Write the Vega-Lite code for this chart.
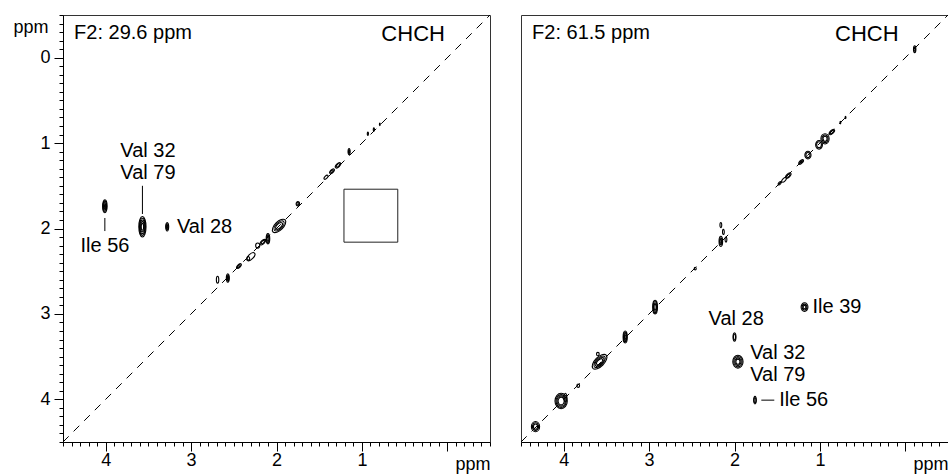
{
  "$schema": "https://vega.github.io/schema/vega-lite/v6.json",
  "padding": {"left": 12, "top": 5, "right": 0, "bottom": 0},
  "background": "white",
  "spacing": 29,
  "config": {
    "font": "Liberation Sans",
    "view": {"stroke": "#333", "strokeWidth": 1},
    "axis": {
      "domainColor": "#000",
      "tickColor": "#000",
      "labelColor": "#000",
      "titleColor": "#000",
      "labelFont": "Liberation Sans",
      "titleFont": "Liberation Sans",
      "labelFontSize": 18,
      "titleFontSize": 18,
      "titleFontWeight": "normal",
      "grid": false,
      "labelOverlap": false,
      "labelFlush": false,
      "labelBound": false,
      "tickCount": 200
    }
  },
  "datasets": {
    "peaks": [
      {"panel": "A", "x": 4.01, "y": 1.74, "form": "tall", "extent": 0.15},
      {"panel": "A", "x": 4.01, "y": 1.74, "form": "tall", "extent": 0.12},
      {"panel": "A", "x": 4.01, "y": 1.74, "form": "tall", "extent": 0.09},
      {"panel": "A", "x": 4.01, "y": 1.74, "form": "tall", "extent": 0.06},
      {"panel": "A", "x": 4.01, "y": 1.74, "form": "tall", "extent": 0.03},
      {"panel": "A", "x": 3.57, "y": 1.98, "form": "tall", "extent": 0.24},
      {"panel": "A", "x": 3.57, "y": 1.98, "form": "tall", "extent": 0.2},
      {"panel": "A", "x": 3.57, "y": 1.98, "form": "tall", "extent": 0.16},
      {"panel": "A", "x": 3.57, "y": 1.98, "form": "tall", "extent": 0.12},
      {"panel": "A", "x": 3.57, "y": 1.98, "form": "tall", "extent": 0.08},
      {"panel": "A", "x": 3.28, "y": 1.98, "form": "tall", "extent": 0.1},
      {"panel": "A", "x": 3.28, "y": 1.98, "form": "tall", "extent": 0.07},
      {"panel": "A", "x": 3.28, "y": 1.98, "form": "tall", "extent": 0.04},
      {"panel": "A", "x": 0.93, "y": 0.89, "form": "tall", "extent": 0.04},
      {"panel": "A", "x": 0.86, "y": 0.84, "form": "tall", "extent": 0.04},
      {"panel": "A", "x": 0.79, "y": 0.78, "form": "tall", "extent": 0.03},
      {"panel": "A", "x": 1.15, "y": 1.1, "form": "tall", "extent": 0.07},
      {"panel": "A", "x": 1.15, "y": 1.1, "form": "tall", "extent": 0.04},
      {"panel": "A", "x": 1.42, "y": 1.4, "form": "diag", "extent": 0.06},
      {"panel": "A", "x": 1.35, "y": 1.33, "form": "diag", "extent": 0.07},
      {"panel": "A", "x": 1.35, "y": 1.33, "form": "diag", "extent": 0.04},
      {"panel": "A", "x": 1.28, "y": 1.26, "form": "diag", "extent": 0.08},
      {"panel": "A", "x": 1.28, "y": 1.26, "form": "diag", "extent": 0.05},
      {"panel": "A", "x": 1.75, "y": 1.71, "form": "round", "extent": 0.05},
      {"panel": "A", "x": 1.75, "y": 1.71, "form": "round", "extent": 0.03},
      {"panel": "A", "x": 1.97, "y": 1.97, "form": "diag", "extent": 0.2},
      {"panel": "A", "x": 1.97, "y": 1.97, "form": "diag", "extent": 0.15},
      {"panel": "A", "x": 1.97, "y": 1.97, "form": "diag", "extent": 0.1},
      {"panel": "A", "x": 2.1, "y": 2.12, "form": "tall", "extent": 0.12},
      {"panel": "A", "x": 2.1, "y": 2.12, "form": "tall", "extent": 0.09},
      {"panel": "A", "x": 2.1, "y": 2.12, "form": "tall", "extent": 0.06},
      {"panel": "A", "x": 2.16, "y": 2.16, "form": "diag", "extent": 0.08},
      {"panel": "A", "x": 2.16, "y": 2.16, "form": "diag", "extent": 0.05},
      {"panel": "A", "x": 2.22, "y": 2.2, "form": "round", "extent": 0.06},
      {"panel": "A", "x": 2.3, "y": 2.33, "form": "diag", "extent": 0.12},
      {"panel": "A", "x": 2.33, "y": 2.35, "form": "round", "extent": 0.04},
      {"panel": "A", "x": 2.44, "y": 2.44, "form": "diag", "extent": 0.07},
      {"panel": "A", "x": 2.44, "y": 2.44, "form": "diag", "extent": 0.04},
      {"panel": "A", "x": 2.57, "y": 2.58, "form": "tall", "extent": 0.1},
      {"panel": "A", "x": 2.57, "y": 2.58, "form": "tall", "extent": 0.07},
      {"panel": "A", "x": 2.57, "y": 2.58, "form": "tall", "extent": 0.04},
      {"panel": "A", "x": 2.69, "y": 2.6, "form": "tall", "extent": 0.08},
      {"panel": "B", "x": 1.18, "y": 2.92, "form": "round", "extent": 0.1},
      {"panel": "B", "x": 1.18, "y": 2.92, "form": "round", "extent": 0.07},
      {"panel": "B", "x": 1.18, "y": 2.92, "form": "round", "extent": 0.04},
      {"panel": "B", "x": 2.0, "y": 3.27, "form": "tall", "extent": 0.1},
      {"panel": "B", "x": 2.0, "y": 3.27, "form": "tall", "extent": 0.07},
      {"panel": "B", "x": 1.96, "y": 3.56, "form": "round", "extent": 0.15},
      {"panel": "B", "x": 1.96, "y": 3.56, "form": "round", "extent": 0.12},
      {"panel": "B", "x": 1.96, "y": 3.56, "form": "round", "extent": 0.09},
      {"panel": "B", "x": 1.96, "y": 3.56, "form": "round", "extent": 0.06},
      {"panel": "B", "x": 1.76, "y": 4.01, "form": "tall", "extent": 0.09},
      {"panel": "B", "x": 1.76, "y": 4.01, "form": "tall", "extent": 0.06},
      {"panel": "B", "x": -0.11, "y": -0.1, "form": "tall", "extent": 0.08},
      {"panel": "B", "x": -0.11, "y": -0.1, "form": "tall", "extent": 0.05},
      {"panel": "B", "x": 0.7, "y": 0.7, "form": "tall", "extent": 0.03},
      {"panel": "B", "x": 0.76, "y": 0.76, "form": "tall", "extent": 0.03},
      {"panel": "B", "x": 0.86, "y": 0.87, "form": "diag", "extent": 0.08},
      {"panel": "B", "x": 0.86, "y": 0.87, "form": "diag", "extent": 0.05},
      {"panel": "B", "x": 0.94, "y": 0.95, "form": "round", "extent": 0.12},
      {"panel": "B", "x": 0.94, "y": 0.95, "form": "round", "extent": 0.09},
      {"panel": "B", "x": 0.94, "y": 0.95, "form": "round", "extent": 0.06},
      {"panel": "B", "x": 1.01, "y": 1.02, "form": "round", "extent": 0.1},
      {"panel": "B", "x": 1.01, "y": 1.02, "form": "round", "extent": 0.07},
      {"panel": "B", "x": 1.14, "y": 1.14, "form": "round", "extent": 0.09},
      {"panel": "B", "x": 1.14, "y": 1.14, "form": "round", "extent": 0.06},
      {"panel": "B", "x": 1.22, "y": 1.22, "form": "diag", "extent": 0.07},
      {"panel": "B", "x": 1.22, "y": 1.22, "form": "diag", "extent": 0.04},
      {"panel": "B", "x": 1.37, "y": 1.38, "form": "diag", "extent": 0.08},
      {"panel": "B", "x": 1.37, "y": 1.38, "form": "diag", "extent": 0.05},
      {"panel": "B", "x": 1.42, "y": 1.43, "form": "diag", "extent": 0.07},
      {"panel": "B", "x": 1.47, "y": 1.47, "form": "diag", "extent": 0.05},
      {"panel": "B", "x": 2.16, "y": 1.96, "form": "tall", "extent": 0.06},
      {"panel": "B", "x": 2.13, "y": 2.04, "form": "tall", "extent": 0.06},
      {"panel": "B", "x": 2.16, "y": 2.15, "form": "tall", "extent": 0.12},
      {"panel": "B", "x": 2.16, "y": 2.15, "form": "tall", "extent": 0.08},
      {"panel": "B", "x": 2.16, "y": 2.15, "form": "tall", "extent": 0.05},
      {"panel": "B", "x": 2.1, "y": 2.13, "form": "tall", "extent": 0.06},
      {"panel": "B", "x": 2.46, "y": 2.47, "form": "round", "extent": 0.03},
      {"panel": "B", "x": 2.93, "y": 2.92, "form": "tall", "extent": 0.16},
      {"panel": "B", "x": 2.93, "y": 2.92, "form": "tall", "extent": 0.13},
      {"panel": "B", "x": 2.93, "y": 2.92, "form": "tall", "extent": 0.1},
      {"panel": "B", "x": 2.93, "y": 2.92, "form": "tall", "extent": 0.07},
      {"panel": "B", "x": 3.28, "y": 3.27, "form": "tall", "extent": 0.14},
      {"panel": "B", "x": 3.28, "y": 3.27, "form": "tall", "extent": 0.11},
      {"panel": "B", "x": 3.28, "y": 3.27, "form": "tall", "extent": 0.08},
      {"panel": "B", "x": 3.28, "y": 3.27, "form": "tall", "extent": 0.05},
      {"panel": "B", "x": 3.58, "y": 3.56, "form": "diag", "extent": 0.22},
      {"panel": "B", "x": 3.58, "y": 3.56, "form": "diag", "extent": 0.17},
      {"panel": "B", "x": 3.58, "y": 3.56, "form": "diag", "extent": 0.13},
      {"panel": "B", "x": 3.58, "y": 3.56, "form": "diag", "extent": 0.09},
      {"panel": "B", "x": 3.6, "y": 3.47, "form": "round", "extent": 0.04},
      {"panel": "B", "x": 3.83, "y": 3.84, "form": "round", "extent": 0.04},
      {"panel": "B", "x": 4.03, "y": 4.02, "form": "round", "extent": 0.18},
      {"panel": "B", "x": 4.03, "y": 4.02, "form": "round", "extent": 0.15},
      {"panel": "B", "x": 4.03, "y": 4.02, "form": "round", "extent": 0.12},
      {"panel": "B", "x": 4.03, "y": 4.02, "form": "round", "extent": 0.09},
      {"panel": "B", "x": 3.98, "y": 3.98, "form": "tall", "extent": 0.1},
      {"panel": "B", "x": 4.33, "y": 4.32, "form": "round", "extent": 0.12},
      {"panel": "B", "x": 4.33, "y": 4.32, "form": "round", "extent": 0.09},
      {"panel": "B", "x": 4.33, "y": 4.32, "form": "round", "extent": 0.06}
    ],
    "labels": [
      {"panel": "A", "x": 3.68, "y": -0.29, "text": "F2: 29.6 ppm", "kind": "head"},
      {"panel": "A", "x": 0.4, "y": -0.28, "text": "CHCH", "kind": "tag"},
      {"panel": "A", "x": 3.505, "y": 1.093, "text": "Val 32", "kind": "peak"},
      {"panel": "A", "x": 3.505, "y": 1.35, "text": "Val 79", "kind": "peak"},
      {"panel": "A", "x": 4.008, "y": 2.205, "text": "Ile 56", "kind": "peak"},
      {"panel": "A", "x": 2.843, "y": 1.98, "text": "Val 28", "kind": "peak"},
      {"panel": "B", "x": 3.68, "y": -0.29, "text": "F2: 61.5 ppm", "kind": "head"},
      {"panel": "B", "x": 0.45, "y": -0.28, "text": "CHCH", "kind": "tag"},
      {"panel": "B", "x": 0.8, "y": 2.92, "text": "Ile 39", "kind": "peak"},
      {"panel": "B", "x": 1.98, "y": 3.06, "text": "Val 28", "kind": "peak"},
      {"panel": "B", "x": 1.493, "y": 3.454, "text": "Val 32", "kind": "peak"},
      {"panel": "B", "x": 1.493, "y": 3.715, "text": "Val 79", "kind": "peak"},
      {"panel": "B", "x": 1.19, "y": 4.008, "text": "Ile 56", "kind": "peak"}
    ],
    "leaders": [
      {"panel": "A", "x": 4.01, "y": 1.877, "x2": 4.01, "y2": 2.03},
      {"panel": "A", "x": 3.57, "y": 1.5, "x2": 3.57, "y2": 1.83},
      {"panel": "B", "x": 1.686, "y": 4.01, "x2": 1.534, "y2": 4.01}
    ],
    "diagonal": [
      {"panel": "A", "x": 4.5, "y": 4.5, "x2": -0.5, "y2": -0.5},
      {"panel": "B", "x": 4.5, "y": 4.5, "x2": -0.5, "y2": -0.5}
    ],
    "boxes": [
      {"panel": "A", "x": 1.21, "y": 1.54, "x2": 0.58, "y2": 2.16}
    ]
  },
  "hconcat": [
    {
      "width": 427,
      "height": 427,
      "layer": [
        {
          "data": {"name": "diagonal"},
          "transform": [{"filter": "datum.panel == 'A'"}],
          "mark": {"type": "rule", "strokeDash": [8, 7], "strokeWidth": 1, "color": "#000"},
          "encoding": {
            "x": {"field": "x", "type": "quantitative", "scale": {"domain": [-0.5, 4.5], "reverse": true, "nice": false, "zero": false},
              "axis": {
                "values": [-0.5,-0.4,-0.3,-0.2,-0.1,0,0.1,0.2,0.3,0.4,0.5,0.6,0.7,0.8,0.9,1,1.1,1.2,1.3,1.4,1.5,1.6,1.7,1.8,1.9,2,2.1,2.2,2.3,2.4,2.5,2.6,2.7,2.8,2.9,3,3.1,3.2,3.3,3.4,3.5,3.6,3.7,3.8,3.9,4,4.1,4.2,4.3,4.4,4.5],
                "tickCount": 200,
                "labelExpr": "(abs(datum.value - round(datum.value)) < 0.001 && abs(datum.value) > 0.001) ? format(round(datum.value), 'd') : ''",
                "tickSize": {"condition": {"test": "abs(datum.value - round(datum.value)) < 0.001", "value": 9}, "value": 4},
                "labelPadding": 0,
                "title": "ppm",
                "titleX": 427,
                "titleY": 27,
                "titleAlign": "right",
                "titleBaseline": "alphabetic",
                "titleAnchor": null
              }},
            "y": {"field": "y", "type": "quantitative", "scale": {"domain": [-0.5, 4.5], "reverse": true, "nice": false, "zero": false},
              "axis": {
                "values": [-0.5,-0.4,-0.3,-0.2,-0.1,0,0.1,0.2,0.3,0.4,0.5,0.6,0.7,0.8,0.9,1,1.1,1.2,1.3,1.4,1.5,1.6,1.7,1.8,1.9,2,2.1,2.2,2.3,2.4,2.5,2.6,2.7,2.8,2.9,3,3.1,3.2,3.3,3.4,3.5,3.6,3.7,3.8,3.9,4,4.1,4.2,4.3,4.4,4.5],
                "tickCount": 200,
                "labelExpr": "abs(datum.value - round(datum.value)) < 0.001 ? format(round(datum.value), 'd') : ''",
                "tickSize": {"condition": {"test": "abs(datum.value - round(datum.value)) < 0.001", "value": 9}, "value": 4},
                "labelPadding": 4,
                "title": "ppm",
                "titleAngle": 0,
                "titleX": -15,
                "titleY": 12,
                "titleAlign": "right",
                "titleBaseline": "middle",
                "titleAnchor": null
              }},
            "x2": {"field": "x2"},
            "y2": {"field": "y2"}
          }
        },
        {
          "data": {"name": "boxes"},
          "transform": [{"filter": "datum.panel == 'A'"}],
          "mark": {"type": "rect", "fill": null, "fillOpacity": 0, "stroke": "#222", "strokeWidth": 1},
          "encoding": {
            "x": {"field": "x", "type": "quantitative"},
            "x2": {"field": "x2"},
            "y": {"field": "y", "type": "quantitative"},
            "y2": {"field": "y2"}
          }
        },
        {
          "data": {"name": "leaders"},
          "transform": [{"filter": "datum.panel == 'A'"}],
          "mark": {"type": "rule", "strokeWidth": 1, "color": "#000"},
          "encoding": {
            "x": {"field": "x", "type": "quantitative"},
            "x2": {"field": "x2"},
            "y": {"field": "y", "type": "quantitative"},
            "y2": {"field": "y2"}
          }
        },
        {
          "data": {"name": "peaks"},
          "transform": [{"filter": "datum.panel == 'A'"}],
          "mark": {"type": "point", "filled": false, "stroke": "#000", "strokeWidth": 1.1, "opacity": 1},
          "encoding": {
            "x": {"field": "x", "type": "quantitative"},
            "y": {"field": "y", "type": "quantitative"},
            "shape": {"field": "form", "type": "nominal", "legend": null,
              "scale": {"domain": ["tall", "round", "diag"],
                "range": ["M0,-1A0.35,1 0 0,1 0,1A0.35,1 0 0,1 0,-1Z", "M0,-1A0.8,1 0 0,1 0,1A0.8,1 0 0,1 0,-1Z", "M-0.707,0.707A1,0.5 -45 0,1 0.707,-0.707A1,0.5 -45 0,1 -0.707,0.707Z"]}},
            "size": {"field": "extent", "type": "quantitative", "legend": null,
              "scale": {"type": "pow", "exponent": 2, "domain": [0, 0.2], "range": [0, 291.7]}}
          }
        },
        {
          "data": {"name": "labels"},
          "transform": [{"filter": "datum.panel == 'A' && datum.kind != 'tag'"}],
          "mark": {"type": "text", "align": "center", "baseline": "middle", "fontSize": 20, "font": "Liberation Sans", "color": "#000"},
          "encoding": {
            "x": {"field": "x", "type": "quantitative"},
            "y": {"field": "y", "type": "quantitative"},
            "text": {"field": "text"}
          }
        },
        {
          "data": {"name": "labels"},
          "transform": [{"filter": "datum.panel == 'A' && datum.kind == 'tag'"}],
          "mark": {"type": "text", "align": "center", "baseline": "middle", "fontSize": 22, "font": "Liberation Sans", "color": "#000"},
          "encoding": {
            "x": {"field": "x", "type": "quantitative"},
            "y": {"field": "y", "type": "quantitative"},
            "text": {"field": "text"}
          }
        }
      ]
    },
    {
      "width": 427,
      "height": 427,
      "layer": [
        {
          "data": {"name": "diagonal"},
          "transform": [{"filter": "datum.panel == 'B'"}],
          "mark": {"type": "rule", "strokeDash": [8, 7], "strokeWidth": 1, "color": "#000"},
          "encoding": {
            "x": {"field": "x", "type": "quantitative", "scale": {"domain": [-0.5, 4.5], "reverse": true, "nice": false, "zero": false},
              "axis": {
                "values": [-0.5,-0.4,-0.3,-0.2,-0.1,0,0.1,0.2,0.3,0.4,0.5,0.6,0.7,0.8,0.9,1,1.1,1.2,1.3,1.4,1.5,1.6,1.7,1.8,1.9,2,2.1,2.2,2.3,2.4,2.5,2.6,2.7,2.8,2.9,3,3.1,3.2,3.3,3.4,3.5,3.6,3.7,3.8,3.9,4,4.1,4.2,4.3,4.4,4.5],
                "tickCount": 200,
                "labelExpr": "(abs(datum.value - round(datum.value)) < 0.001 && abs(datum.value) > 0.001) ? format(round(datum.value), 'd') : ''",
                "tickSize": {"condition": {"test": "abs(datum.value - round(datum.value)) < 0.001", "value": 9}, "value": 4},
                "labelPadding": 0,
                "title": "ppm",
                "titleX": 427,
                "titleY": 27,
                "titleAlign": "right",
                "titleBaseline": "alphabetic",
                "titleAnchor": null
              }},
            "y": {"field": "y", "type": "quantitative", "scale": {"domain": [-0.5, 4.5], "reverse": true, "nice": false, "zero": false}, "axis": null},
            "x2": {"field": "x2"},
            "y2": {"field": "y2"}
          }
        },
        {
          "data": {"name": "leaders"},
          "transform": [{"filter": "datum.panel == 'B'"}],
          "mark": {"type": "rule", "strokeWidth": 1, "color": "#000"},
          "encoding": {
            "x": {"field": "x", "type": "quantitative"},
            "x2": {"field": "x2"},
            "y": {"field": "y", "type": "quantitative"},
            "y2": {"field": "y2"}
          }
        },
        {
          "data": {"name": "peaks"},
          "transform": [{"filter": "datum.panel == 'B'"}],
          "mark": {"type": "point", "filled": false, "stroke": "#000", "strokeWidth": 1.1, "opacity": 1},
          "encoding": {
            "x": {"field": "x", "type": "quantitative"},
            "y": {"field": "y", "type": "quantitative"},
            "shape": {"field": "form", "type": "nominal", "legend": null,
              "scale": {"domain": ["tall", "round", "diag"],
                "range": ["M0,-1A0.35,1 0 0,1 0,1A0.35,1 0 0,1 0,-1Z", "M0,-1A0.8,1 0 0,1 0,1A0.8,1 0 0,1 0,-1Z", "M-0.707,0.707A1,0.5 -45 0,1 0.707,-0.707A1,0.5 -45 0,1 -0.707,0.707Z"]}},
            "size": {"field": "extent", "type": "quantitative", "legend": null,
              "scale": {"type": "pow", "exponent": 2, "domain": [0, 0.2], "range": [0, 291.7]}}
          }
        },
        {
          "data": {"name": "labels"},
          "transform": [{"filter": "datum.panel == 'B' && datum.kind != 'tag'"}],
          "mark": {"type": "text", "align": "center", "baseline": "middle", "fontSize": 20, "font": "Liberation Sans", "color": "#000"},
          "encoding": {
            "x": {"field": "x", "type": "quantitative"},
            "y": {"field": "y", "type": "quantitative"},
            "text": {"field": "text"}
          }
        },
        {
          "data": {"name": "labels"},
          "transform": [{"filter": "datum.panel == 'B' && datum.kind == 'tag'"}],
          "mark": {"type": "text", "align": "center", "baseline": "middle", "fontSize": 22, "font": "Liberation Sans", "color": "#000"},
          "encoding": {
            "x": {"field": "x", "type": "quantitative"},
            "y": {"field": "y", "type": "quantitative"},
            "text": {"field": "text"}
          }
        }
      ]
    }
  ]
}
